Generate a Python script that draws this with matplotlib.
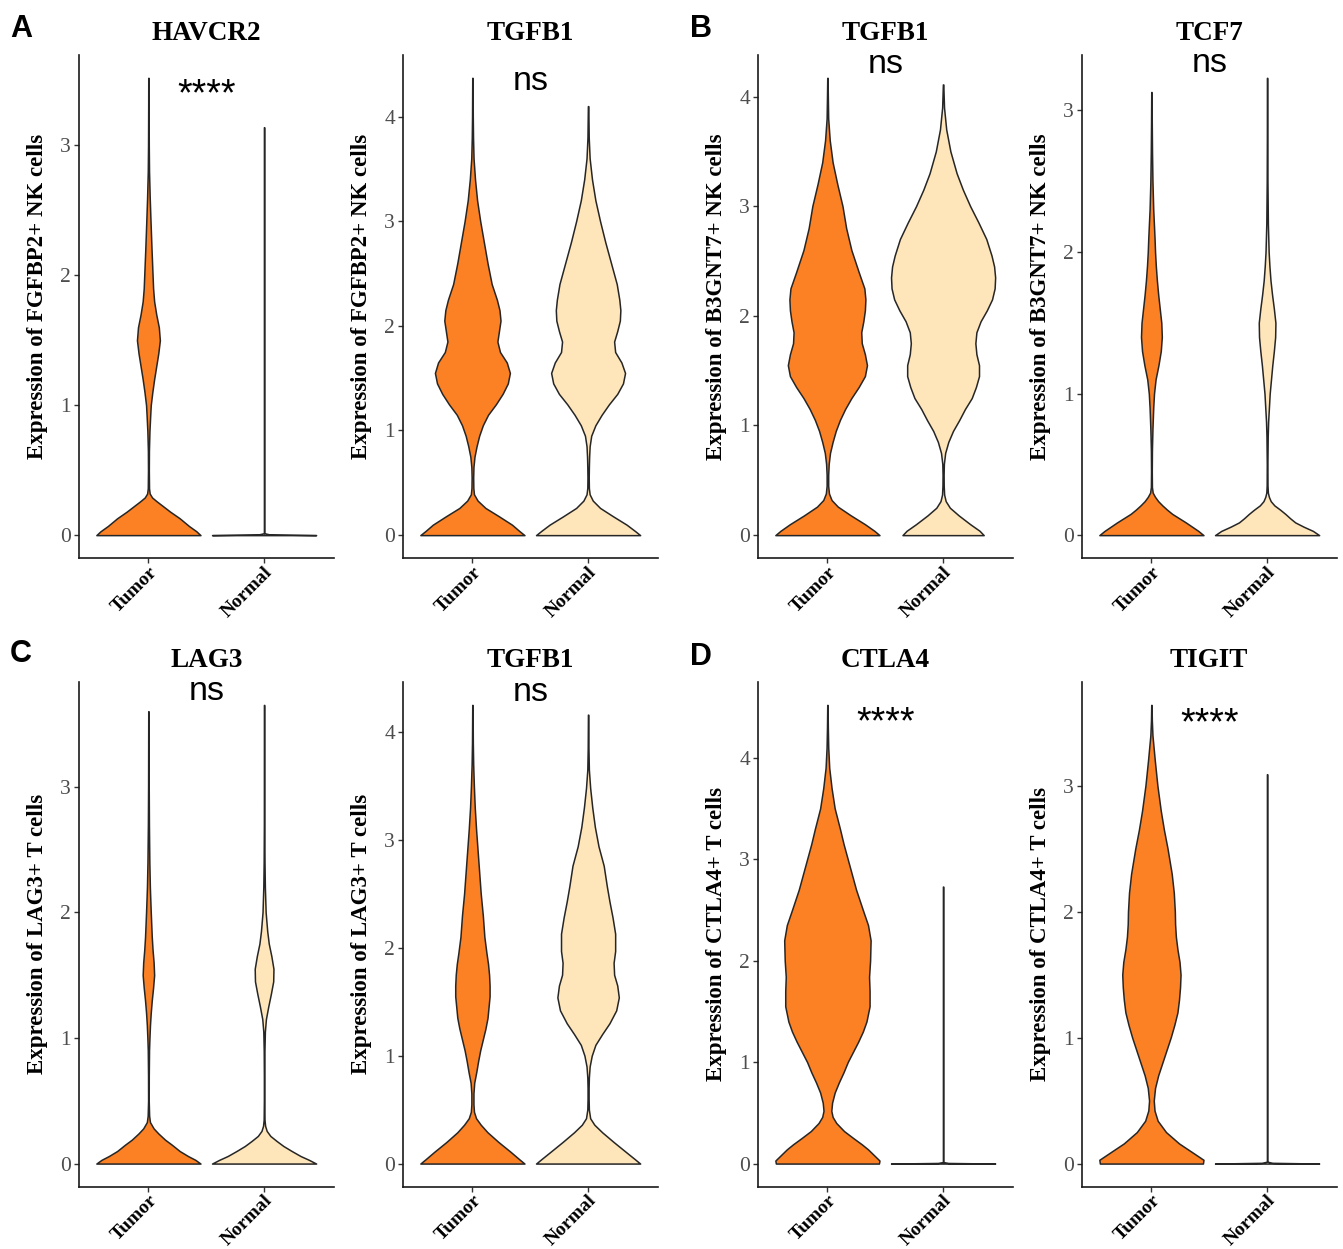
import matplotlib
matplotlib.use("Agg")
import numpy as np
import matplotlib.pyplot as plt
from matplotlib.ticker import MultipleLocator

plt.rcParams["font.family"] = ["Liberation Serif", "DejaVu Serif"]

# ---------------- data ----------------
groups = ["Tumor", "Normal"]
colors = ["#FB8124", "#FFE6BA"]

titles = ["HAVCR2", "TGFB1", "TGFB1", "TCF7", "LAG3", "TGFB1", "CTLA4", "TIGIT"]
ylabels = ["Expression of FGFBP2+ NK cells", "Expression of FGFBP2+ NK cells",
           "Expression of B3GNT7+ NK cells", "Expression of B3GNT7+ NK cells",
           "Expression of LAG3+ T cells", "Expression of LAG3+ T cells",
           "Expression of CTLA4+ T cells", "Expression of CTLA4+ T cells"]
sig_labels = ["****", "ns", "ns", "ns", "ns", "ns", "****", "****"]
sig_y = [3.31, 4.25, 4.21, 3.27, 3.69, 4.29, 4.24, 3.41]
panel_letters = ["A", "B", "C", "D"]

# violin outlines: expression level (y) and relative density width (w)
havcr2_tumor_y = [0, 0.03, 0.07, 0.13, 0.18, 0.22, 0.26, 0.29, 0.32, 0.36, 0.5, 0.65, 0.8, 0.9, 1.0, 1.1, 1.2,
                  1.3, 1.4, 1.5, 1.6, 1.7, 1.8, 1.9, 2.0, 2.2, 2.4, 2.6, 2.8, 3.0, 3.3, 3.52]
havcr2_tumor_w = [1.0, 0.92, 0.78, 0.6, 0.42, 0.29, 0.16, 0.07, 0.025, 0.012, 0.008, 0.01, 0.02, 0.032, 0.045,
                  0.075, 0.11, 0.15, 0.19, 0.22, 0.2, 0.15, 0.11, 0.09, 0.08, 0.06, 0.042, 0.025, 0.012, 0.007,
                  0.004, 0.003]
havcr2_normal_y = [0, 0.006, 0.015, 3.14]
havcr2_normal_w = [1.0, 0.1, 0.003, 0.003]

tgfb1a_tumor_y = [0, 0.04, 0.1, 0.18, 0.26, 0.33, 0.39, 0.45, 0.55, 0.65, 0.75, 0.85, 0.95, 1.05, 1.15, 1.25,
                  1.35, 1.45, 1.55, 1.65, 1.75, 1.85, 1.95, 2.05, 2.15, 2.25, 2.4, 2.6, 2.8, 3.0, 3.2, 3.4, 3.6,
                  3.8, 4.0, 4.37]
tgfb1a_tumor_w = [1.0, 0.9, 0.76, 0.51, 0.25, 0.1, 0.03, 0.018, 0.015, 0.02, 0.04, 0.08, 0.13, 0.2, 0.3, 0.45,
                  0.58, 0.68, 0.72, 0.66, 0.53, 0.48, 0.51, 0.54, 0.52, 0.47, 0.37, 0.29, 0.22, 0.15, 0.09, 0.05,
                  0.022, 0.012, 0.007, 0.003]
tgfb1a_normal_y = [0, 0.04, 0.1, 0.18, 0.26, 0.33, 0.39, 0.45, 0.55, 0.65, 0.75, 0.85, 0.95, 1.05, 1.15, 1.25,
                   1.35, 1.45, 1.55, 1.65, 1.75, 1.85, 1.95, 2.05, 2.15, 2.25, 2.4, 2.6, 2.8, 3.0, 3.2, 3.4, 3.6,
                   3.8, 4.1]
tgfb1a_normal_w = [1.0, 0.9, 0.74, 0.48, 0.23, 0.09, 0.03, 0.015, 0.012, 0.015, 0.02, 0.03, 0.06, 0.14, 0.26,
                   0.4, 0.56, 0.67, 0.71, 0.64, 0.52, 0.5, 0.56, 0.61, 0.62, 0.6, 0.55, 0.44, 0.33, 0.23, 0.14,
                   0.075, 0.03, 0.012, 0.004]

tgfb1b_tumor_y = [0, 0.04, 0.1, 0.18, 0.26, 0.32, 0.38, 0.45, 0.55, 0.65, 0.75, 0.85, 0.95, 1.05, 1.15, 1.25,
                  1.35, 1.45, 1.55, 1.65, 1.75, 1.85, 1.95, 2.05, 2.15, 2.25, 2.4, 2.6, 2.8, 3.0, 3.2, 3.4, 3.6,
                  3.8, 4.0, 4.17]
tgfb1b_tumor_w = [1.0, 0.9, 0.72, 0.45, 0.2, 0.08, 0.03, 0.015, 0.015, 0.025, 0.05, 0.1, 0.16, 0.24, 0.34, 0.46,
                  0.6, 0.72, 0.76, 0.72, 0.66, 0.65, 0.69, 0.72, 0.73, 0.71, 0.6, 0.46, 0.36, 0.29, 0.19, 0.1,
                  0.045, 0.015, 0.008, 0.003]
tgfb1b_normal_y = [0, 0.04, 0.1, 0.18, 0.25, 0.31, 0.37, 0.45, 0.55, 0.65, 0.75, 0.85, 0.95, 1.05, 1.15, 1.25,
                   1.35, 1.45, 1.55, 1.65, 1.75, 1.85, 1.95, 2.05, 2.15, 2.25, 2.35, 2.45, 2.55, 2.7, 2.85, 3.0,
                   3.15, 3.3, 3.5, 3.7, 3.9, 4.11]
tgfb1b_normal_w = [0.78, 0.7, 0.52, 0.3, 0.13, 0.05, 0.02, 0.012, 0.01, 0.015, 0.04, 0.1, 0.19, 0.31, 0.42,
                   0.55, 0.63, 0.69, 0.69, 0.64, 0.62, 0.64, 0.72, 0.84, 0.94, 0.99, 1.0, 0.98, 0.93, 0.83, 0.68,
                   0.52, 0.38, 0.26, 0.14, 0.06, 0.018, 0.004]

tcf7_tumor_y = [0, 0.03, 0.06, 0.09, 0.12, 0.15, 0.18, 0.21, 0.24, 0.27, 0.3, 0.34, 0.45, 0.6, 0.75, 0.9, 1.0,
                1.1, 1.2, 1.3, 1.4, 1.5, 1.6, 1.7, 1.8, 1.9, 2.0, 2.1, 2.3, 2.5, 2.7, 2.9, 3.13]
tcf7_tumor_w = [1.0, 0.9, 0.78, 0.66, 0.53, 0.4, 0.3, 0.21, 0.13, 0.07, 0.025, 0.01, 0.007, 0.01, 0.02, 0.035,
                0.05, 0.08, 0.135, 0.18, 0.2, 0.19, 0.16, 0.13, 0.105, 0.085, 0.07, 0.06, 0.035, 0.02, 0.012,
                0.007, 0.003]
tcf7_normal_y = [0, 0.03, 0.06, 0.09, 0.12, 0.15, 0.18, 0.21, 0.24, 0.27, 0.3, 0.35, 0.5, 0.7, 0.8, 0.9, 1.0,
                 1.1, 1.2, 1.3, 1.4, 1.5, 1.6, 1.7, 1.8, 1.9, 2.0, 2.2, 2.5, 2.8, 3.23]
tcf7_normal_w = [1.0, 0.88, 0.7, 0.54, 0.44, 0.35, 0.25, 0.14, 0.07, 0.035, 0.015, 0.008, 0.006, 0.012, 0.02,
                 0.035, 0.05, 0.075, 0.1, 0.13, 0.155, 0.16, 0.13, 0.095, 0.065, 0.045, 0.03, 0.015, 0.007,
                 0.004, 0.003]

lag3_tumor_y = [0, 0.03, 0.06, 0.1, 0.15, 0.19, 0.24, 0.28, 0.33, 0.38, 0.5, 0.7, 0.9, 1.0, 1.1, 1.2, 1.3, 1.4,
                1.5, 1.6, 1.7, 1.8, 1.9, 2.0, 2.2, 2.4, 2.7, 3.0, 3.6]
lag3_tumor_w = [1.0, 0.9, 0.76, 0.6, 0.45, 0.32, 0.19, 0.1, 0.03, 0.014, 0.006, 0.007, 0.012, 0.02, 0.03,
                0.045, 0.065, 0.09, 0.11, 0.1, 0.08, 0.065, 0.055, 0.045, 0.028, 0.018, 0.01, 0.006, 0.003]
lag3_normal_y = [0, 0.03, 0.06, 0.1, 0.14, 0.18, 0.22, 0.26, 0.3, 0.35, 0.5, 0.7, 0.9, 1.05, 1.15, 1.25, 1.35,
                 1.45, 1.55, 1.65, 1.75, 1.85, 2.0, 2.2, 2.4, 2.7, 3.65]
lag3_normal_w = [1.0, 0.86, 0.7, 0.53, 0.37, 0.24, 0.12, 0.05, 0.02, 0.008, 0.004, 0.004, 0.007, 0.015, 0.035,
                 0.08, 0.13, 0.175, 0.18, 0.14, 0.09, 0.06, 0.03, 0.015, 0.008, 0.004, 0.003]

tgfb1c_tumor_y = [0, 0.04, 0.11, 0.2, 0.29, 0.36, 0.42, 0.48, 0.55, 0.65, 0.75, 0.85, 0.95, 1.05, 1.15, 1.25,
                  1.35, 1.45, 1.55, 1.65, 1.75, 1.85, 1.95, 2.1, 2.3, 2.5, 2.7, 2.9, 3.1, 3.3, 3.5, 3.7, 3.9,
                  4.25]
tgfb1c_tumor_w = [1.0, 0.9, 0.73, 0.5, 0.29, 0.16, 0.07, 0.03, 0.02, 0.02, 0.035, 0.075, 0.11, 0.15, 0.2, 0.25,
                  0.29, 0.31, 0.33, 0.33, 0.32, 0.3, 0.27, 0.23, 0.2, 0.16, 0.13, 0.1, 0.07, 0.045, 0.028,
                  0.015, 0.008, 0.003]
tgfb1c_normal_y = [0, 0.04, 0.11, 0.2, 0.29, 0.36, 0.42, 0.5, 0.6, 0.7, 0.8, 0.9, 1.0, 1.1, 1.2, 1.3, 1.42,
                   1.54, 1.65, 1.75, 1.86, 1.97, 2.13, 2.28, 2.43, 2.57, 2.76, 2.94, 3.12, 3.3, 3.48, 3.65, 3.85,
                   4.16]
tgfb1c_normal_w = [1.0, 0.9, 0.72, 0.49, 0.27, 0.12, 0.04, 0.015, 0.01, 0.01, 0.015, 0.03, 0.07, 0.14, 0.27,
                   0.41, 0.54, 0.59, 0.56, 0.5, 0.49, 0.52, 0.52, 0.47, 0.41, 0.36, 0.3, 0.2, 0.13, 0.08, 0.04,
                   0.015, 0.007, 0.003]

ctla4_tumor_y = [0, 0.03, 0.08, 0.14, 0.19, 0.25, 0.32, 0.4, 0.46, 0.52, 0.6, 0.7, 0.8, 0.9, 1.0, 1.1, 1.2,
                 1.3, 1.4, 1.55, 1.7, 1.84, 2.0, 2.2, 2.35, 2.5, 2.7, 2.85, 3.0, 3.15, 3.3, 3.5, 3.7, 3.9, 4.1,
                 4.3, 4.52]
ctla4_tumor_w = [0.99, 1.0, 0.9, 0.78, 0.66, 0.5, 0.32, 0.17, 0.1, 0.075, 0.09, 0.14, 0.22, 0.31, 0.39, 0.49,
                 0.59, 0.68, 0.75, 0.81, 0.81, 0.8, 0.82, 0.83, 0.78, 0.68, 0.55, 0.47, 0.39, 0.31, 0.24, 0.14,
                 0.08, 0.035, 0.016, 0.008, 0.003]
ctla4_normal_y = [0, 0.006, 0.015, 2.73]
ctla4_normal_w = [1.0, 0.1, 0.003, 0.003]

tigit_tumor_y = [0, 0.03, 0.08, 0.16, 0.25, 0.34, 0.42, 0.5, 0.6, 0.7, 0.8, 0.9, 1.0, 1.1, 1.2, 1.3, 1.4, 1.5,
                 1.6, 1.7, 1.8, 1.9, 2.0, 2.15, 2.3, 2.5, 2.65, 2.8, 3.0, 3.2, 3.4, 3.52, 3.64]
tigit_tumor_w = [0.99, 1.0, 0.82, 0.53, 0.28, 0.12, 0.06, 0.045, 0.07, 0.13, 0.21, 0.29, 0.37, 0.44, 0.5, 0.53,
                 0.55, 0.56, 0.54, 0.5, 0.47, 0.455, 0.45, 0.43, 0.39, 0.31, 0.24, 0.18, 0.115, 0.065, 0.02,
                 0.008, 0.003]
tigit_normal_y = [0, 0.006, 0.015, 3.09]
tigit_normal_w = [1.0, 0.1, 0.003, 0.003]

tumor_profiles = [(havcr2_tumor_y, havcr2_tumor_w), (tgfb1a_tumor_y, tgfb1a_tumor_w),
                  (tgfb1b_tumor_y, tgfb1b_tumor_w), (tcf7_tumor_y, tcf7_tumor_w),
                  (lag3_tumor_y, lag3_tumor_w), (tgfb1c_tumor_y, tgfb1c_tumor_w),
                  (ctla4_tumor_y, ctla4_tumor_w), (tigit_tumor_y, tigit_tumor_w)]
normal_profiles = [(havcr2_normal_y, havcr2_normal_w), (tgfb1a_normal_y, tgfb1a_normal_w),
                   (tgfb1b_normal_y, tgfb1b_normal_w), (tcf7_normal_y, tcf7_normal_w),
                   (lag3_normal_y, lag3_normal_w), (tgfb1c_normal_y, tgfb1c_normal_w),
                   (ctla4_normal_y, ctla4_normal_w), (tigit_normal_y, tigit_normal_w)]

# ---------------- layout ----------------
W, H = 1343, 1249
fig = plt.figure(figsize=(W / 100, H / 100), dpi=100)
col_left = [79, 403, 758, 1082]
col_width = 254.5
row_top = [55, 682]
row_bottom = [558, 1186.5]
ylabel_center = [0.52, 0.5]

for i in range(8):
    r, c = divmod(i, 4)
    ax = fig.add_axes([col_left[c] / W, 1 - row_bottom[r] / H, col_width / W,
                       (row_bottom[r] - row_top[r]) / H])
    stats = []
    for yy, ww in (tumor_profiles[i], normal_profiles[i]):
        stats.append(dict(coords=np.asarray(yy, float), vals=np.asarray(ww, float),
                          mean=0.0, median=0.0, min=min(yy), max=max(yy)))
    parts = ax.violin(stats, positions=[1, 2], widths=0.9, showextrema=False)
    for body, colr in zip(parts["bodies"], colors):
        body.set_facecolor(colr)
        body.set_edgecolor("#262626")
        body.set_linewidth(1.1)
        body.set_alpha(1)

    ymax = max(max(tumor_profiles[i][0]), max(normal_profiles[i][0]))
    ax.set_xlim(0.4, 2.6)
    ax.set_ylim(-0.05 * ymax, 1.05 * ymax)
    ax.yaxis.set_major_locator(MultipleLocator(1))
    ax.set_xticks([1, 2])
    ax.set_xticklabels(groups, rotation=45, ha="right", va="top", rotation_mode="anchor",
                       fontsize=14, fontweight="bold")
    for s in ("top", "right"):
        ax.spines[s].set_visible(False)
    for s in ("left", "bottom"):
        ax.spines[s].set_linewidth(1.2)
        ax.spines[s].set_color("#1a1a1a")
    ax.tick_params(axis="both", direction="out", length=3.8, width=1.0, color="#333333")
    ax.tick_params(axis="y", labelsize=15.5, labelcolor="#4D4D4D", pad=2)
    ax.tick_params(axis="x", pad=0)

    ax.set_title(titles[i], fontsize=19.5, fontweight="bold", pad=11)
    ax.set_ylabel(ylabels[i], fontsize=16.5, fontweight="bold")
    ax.yaxis.set_label_coords(-0.12, ylabel_center[r])

    fs = 27 if sig_labels[i] == "****" else 24.5
    ax.text(1.5, sig_y[i], sig_labels[i], ha="center", va="baseline", fontsize=fs,
            family=["Liberation Sans", "DejaVu Sans"])

letter_pos = [(10, 37), (690, 37), (10, 662), (690, 665)]
for letter, (px, py) in zip(panel_letters, letter_pos):
    fig.text(px / W, 1 - py / H, letter, fontsize=22, fontweight="bold", va="baseline",
             family=["Liberation Sans", "DejaVu Sans"])

fig.savefig("out.png", dpi=100)
